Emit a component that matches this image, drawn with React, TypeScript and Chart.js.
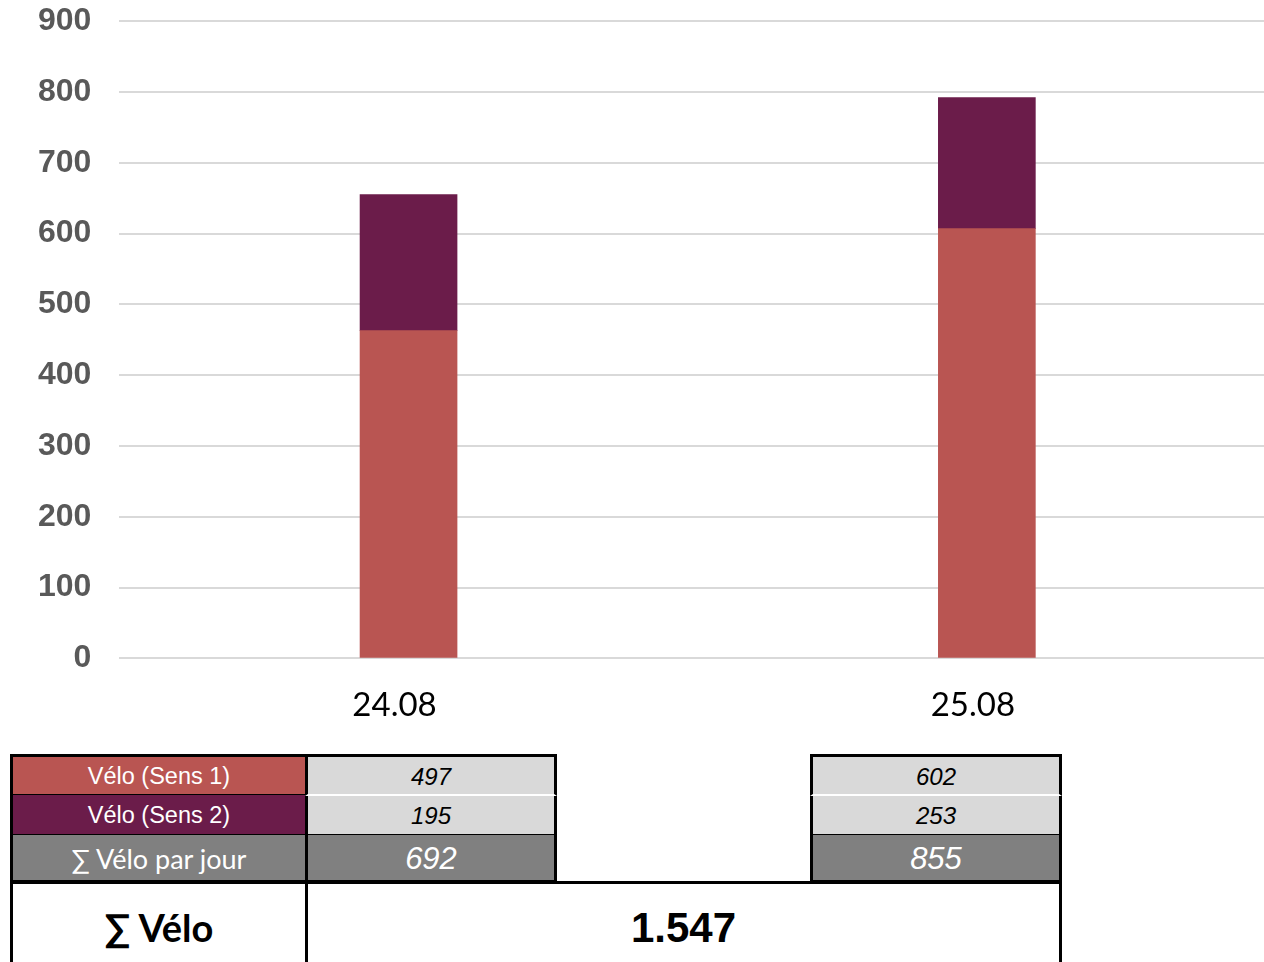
import React, { useEffect, useRef } from "react";
import { Chart, registerables } from "chart.js";

Chart.register(...registerables);

const categories = ["24.08", "25.08"];
const sens1Bars = [463, 607];
const sens2Bars = [192, 185];
const yMax = 900;
const yStep = 100;

const rowLabels = ["Vélo (Sens 1)", "Vélo (Sens 2)", "∑ Vélo par jour"];
const sens1Table = [497, 602];
const sens2Table = [195, 253];
const dayTotals = [692, 855];
const grandTotalLabel = "∑ Vélo";
const grandTotal = "1.547";

const RED = "#b95552";
const PURPLE = "#6b1c4a";
const LIGHT = "#d9d9d9";
const DARK = "#808080";

type CellProps = {
  x: number;
  y: number;
  w: number;
  h: number;
  bg: string;
  color?: string;
  font?: React.CSSProperties;
  text?: string | number;
  bt?: string;
  bb?: string;
  bl?: string;
  br?: string;
};

function Cell({ x, y, w, h, bg, color, font, text, bt, bb, bl, br }: CellProps) {
  return (
    <div
      style={{
        position: "absolute",
        left: x,
        top: y,
        width: w,
        height: h,
        boxSizing: "border-box",
        background: bg,
        color: color || "#000",
        display: "flex",
        alignItems: "center",
        justifyContent: "center",
        borderTop: bt || "none",
        borderBottom: bb || "none",
        borderLeft: bl || "none",
        borderRight: br || "none",
        whiteSpace: "nowrap",
        paddingTop: 2,
        ...font,
      }}
    >
      {text}
    </div>
  );
}

export default function App() {
  const canvasRef = useRef<HTMLCanvasElement | null>(null);

  useEffect(() => {
    if (!canvasRef.current) return;
    const chart = new Chart(canvasRef.current, {
      type: "bar",
      data: {
        labels: categories,
        datasets: [
          { label: "Vélo (Sens 1)", data: sens1Bars, backgroundColor: RED, barThickness: 97 },
          { label: "Vélo (Sens 2)", data: sens2Bars, backgroundColor: PURPLE, barThickness: 97 },
        ],
      },
      options: {
        animation: false,
        responsive: false,
        maintainAspectRatio: false,
        layout: { padding: { top: 20, left: 10, right: 0, bottom: 0 } },
        plugins: { legend: { display: false }, tooltip: { enabled: false } },
        scales: {
          x: {
            stacked: true,
            grid: { display: false, drawTicks: false },
            border: { display: false },
            ticks: {
              color: "#000",
              padding: 27,
              labelOffset: -14,
              font: { family: "Lato", size: 33 },
            },
          },
          y: {
            stacked: true,
            min: 0,
            max: yMax,
            grid: { color: "#d9d9d9", lineWidth: 2, drawTicks: false },
            border: { display: false },
            ticks: {
              stepSize: yStep,
              color: "#595959",
              padding: 28,
              font: { family: "Liberation Sans", size: 32, weight: "bold" },
            },
          },
        },
      },
    });
    return () => chart.destroy();
  }, []);

  const B = "3px solid #000";
  const W = "2px solid #fff";
  const labelFont: React.CSSProperties = { fontFamily: "Liberation Sans", fontSize: 23.5 };
  const numFont: React.CSSProperties = { fontFamily: "Liberation Sans", fontSize: 24, fontStyle: "italic" };
  const totFont: React.CSSProperties = { fontFamily: "Liberation Sans", fontSize: 31, fontStyle: "italic" };
  const cols = [
    { x: 305, w: 252 },
    { x: 810, w: 252 },
  ];

  return (
    <div style={{ position: "absolute", left: 0, top: 0, width: 1264, height: 962, overflow: "hidden", background: "#fff" }}>
      <canvas ref={canvasRef} width={1276} height={778} style={{ position: "absolute", left: 0, top: -26, width: 1276, height: 778 }} />
      <Cell x={10} y={754} w={298} h={42} bg={RED} color="#fff" font={labelFont} text={rowLabels[0]} bt={B} bl={B} br={B} bb="2px solid #000" />
      <Cell x={10} y={795} w={298} h={41} bg={PURPLE} color="#fff" font={labelFont} text={rowLabels[1]} bl={B} br={B} bb="2px solid #000" />
      <Cell x={10} y={835} w={298} h={48} bg={DARK} color="#fff" font={{ fontFamily: "Lato", fontSize: 27 }} text={rowLabels[2]} bl={B} br={B} bb={B} />
      <Cell x={10} y={881} w={298} h={90} bg="#fff" font={{ fontFamily: "Lato", fontSize: 38, fontWeight: "bold" }} text={grandTotalLabel} bl={B} br={B} />
      {cols.map((c, i) => (
        <React.Fragment key={i}>
          <Cell x={c.x} y={754} w={c.w} h={42} bg={LIGHT} font={numFont} text={sens1Table[i]} bt={B} bl={B} br={B} bb={W} />
          <Cell x={c.x} y={796} w={c.w} h={40} bg={LIGHT} font={numFont} text={sens2Table[i]} bl={B} br={B} bb="2px solid #000" />
          <Cell x={c.x} y={835} w={c.w} h={48} bg={DARK} color="#fff" font={totFont} text={dayTotals[i]} bl={B} br={B} bb={B} />
        </React.Fragment>
      ))}
      <Cell x={305} y={881} w={757} h={88} bg="#fff" font={{ fontFamily: "Liberation Sans", fontSize: 42, fontWeight: "bold" }} text={grandTotal} bt={B} bl={B} br={B} />
      <div style={{ position: "absolute", left: 10, top: 881, width: 1052, height: 3, background: "#000" }} />
    </div>
  );
}
